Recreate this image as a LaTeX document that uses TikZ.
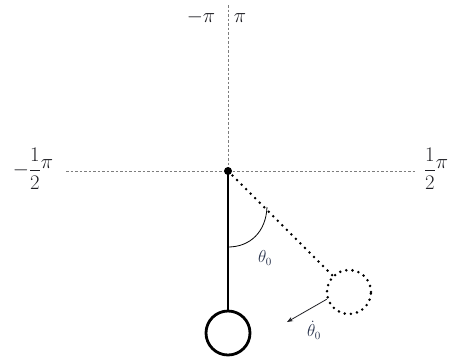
\documentclass[tikz,border=0pt]{standalone}
\usetikzlibrary{arrows.meta}
\definecolor{axisgray}{RGB}{125,125,125}
\definecolor{labelc}{RGB}{30,30,35}
\definecolor{thetac}{RGB}{40,50,75}
\begin{document}
\begin{tikzpicture}[x=1pt,y=-1pt,
  axisline/.style={axisgray,line width=1pt,dash pattern=on 2.5pt off 2pt},
  axislabel/.style={text=labelc,inner sep=0pt,font=\fontsize{20}{24}\selectfont},
  thetalabel/.style={text=thetac,inner sep=0pt,font=\fontsize{16}{18}\selectfont},
  bobstyle/.style={circle,draw,line width=2.8pt,minimum size=44pt,inner sep=0pt},
  ghoststyle/.style={circle,draw,line width=2.8pt,line cap=round,dash pattern=on 0pt off 6.2pt,minimum size=44pt,inner sep=0pt},
  dotline/.style={line width=2.8pt,line cap=round,dash pattern=on 0pt off 6.4pt},
  rod/.style={line width=2.8pt},
  anglearc/.style={line width=0.8pt},
  velarrow/.style={line width=0.8pt,draw=labelc,-{Stealth[length=6pt,width=4.5pt]}}
]
\useasboundingbox (0,0) rectangle (454,360);
% axes
\coordinate (top) at (228,5);
\coordinate (left) at (66,171);
\coordinate (right) at (416,171);
\coordinate (pivot) at (228,171);
\draw[axisline] (top) -- (pivot);
\draw[axisline] (left) -- (right);
% labels
\node[axislabel,anchor=base] (mpi) at (201,22) {$-\pi$};
\node[axislabel,anchor=base] (ppi) at (240,22) {$\pi$};
\node[axislabel] (mhalf) at (33,169) {$\displaystyle-\frac{1}{2}\raisebox{7pt}{$\pi$}$};
\node[axislabel] (phalf) at (436,169) {$\displaystyle\frac{1}{2}\raisebox{7pt}{$\pi$}$};
% pendulum
\node[bobstyle] (bob) at (228,333) {};
\draw[rod] (pivot) -- (bob.north);
\node[ghoststyle] (ghost) at (349,292) {};
\draw[dotline] (pivot) -- (ghost);
\fill (pivot) circle (4pt);
% angle arc
\coordinate (arcA) at (267,207);
\coordinate (arcB) at (228,247);
\draw[anglearc] (arcA) .. controls (266,232) and (250,247) .. (arcB);
\node[thetalabel] (th) at (265,258) {$\theta_0$};
% velocity arrow
\coordinate (vend) at (287,322);
\draw[velarrow] (ghost.198) -- (vend);
\node[thetalabel] (thd) at (314,330) {$\dot{\theta}_0$};
\end{tikzpicture}
\end{document}
